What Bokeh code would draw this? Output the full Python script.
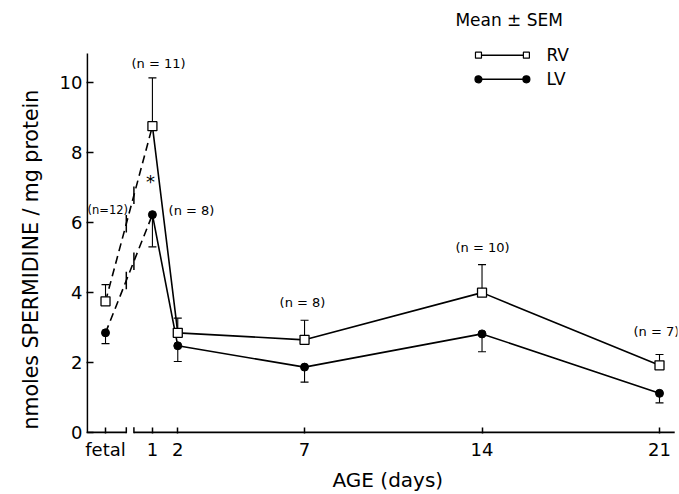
import numpy as np
from bokeh.plotting import figure
from bokeh.models import Range1d, FixedTicker, Whisker, TeeHead, ColumnDataSource, Title
from bokeh.core.properties import value
from bokeh.embed import file_html
from bokeh.resources import INLINE

# ---- data ----
age_labels = ["fetal", "1", "2", "7", "14", "21"]
age_pos = [-0.85, 1, 2, 7, 14, 21]
rv_mean = [3.75, 8.76, 2.85, 2.65, 4.0, 1.92]
rv_upper = [4.23, 10.14, 3.27, 3.21, 4.8, 2.23]
lv_mean = [2.85, 6.23, 2.48, 1.87, 2.82, 1.12]
lv_lower = [2.54, 5.31, 2.03, 1.44, 2.31, 0.85]
n_text = ["(n = 11)", "(n = 8)", "(n = 8)", "(n = 10)", "(n = 7)"]
n_fetal = "(n=12)"
y_ticks = [0, 2, 4, 6, 8, 10]

# annotation placement (layout only)
n_x = [1.24, 2.54, 6.92, 14.02, 20.88]
n_y = [10.56, 6.35, 3.72, 5.29, 2.9]

FONT = "DejaVu Sans"
X0, X1 = -1.60, 21.71
Y0, Y1 = -0.0285, 12.354

p = figure(width=679, height=494, x_range=Range1d(X0, X1), y_range=Range1d(Y0, Y1),
           output_backend="svg", toolbar_location=None,
           min_border_left=86, min_border_right=2, min_border_top=0, min_border_bottom=60)
p.title.visible = False
p.xgrid.visible = False
p.ygrid.visible = False
p.outline_line_color = None
p.background_fill_color = "white"

# axes
p.xaxis.ticker = FixedTicker(ticks=age_pos)
p.xaxis.major_label_overrides = {float(a): l for a, l in zip(age_pos, age_labels)}
p.xaxis.axis_line_color = None
p.xaxis.major_tick_in = 6
p.xaxis.major_tick_out = 0
p.xaxis.major_tick_line_width = 1.5
p.xaxis.major_label_standoff = 5
p.xaxis.major_label_text_font = FONT
p.xaxis.major_label_text_font_size = "18px"
p.xaxis.major_label_text_color = "black"
p.xaxis.minor_tick_line_color = None

p.yaxis.ticker = FixedTicker(ticks=y_ticks)
p.yaxis.axis_line_color = None
p.yaxis.major_tick_in = 7
p.yaxis.major_tick_out = 0
p.yaxis.major_tick_line_width = 1.5
p.yaxis.major_label_standoff = 4
p.yaxis.major_label_text_font = FONT
p.yaxis.major_label_text_font_size = "18px"
p.yaxis.major_label_text_color = "black"
p.yaxis.minor_tick_line_color = None

# hand-drawn axis lines with break
y_axis_x = X0 + 0.03
p.segment(x0=[y_axis_x], y0=[0], x1=[y_axis_x], y1=[10.84], line_color="black", line_width=1.8)
brk = [-0.03, 0.27]
p.segment(x0=[y_axis_x, brk[1]], y0=[0, 0], x1=[brk[0], 21.6], y1=[0, 0],
          line_color="black", line_width=2)
p.segment(x0=brk, y0=[-0.03, -0.03], x1=brk, y1=[0.15, 0.15], line_color="black", line_width=1.5)

# error bars (one-sided)
src = ColumnDataSource(dict(x=age_pos, rv=rv_mean, rvu=rv_upper, lv=lv_mean, lvl=lv_lower))
w1 = Whisker(base="x", lower="rv", upper="rvu", source=src, lower_head=None,
             upper_head=TeeHead(size=8, line_width=1.2), line_width=1.1, level="underlay")
w2 = Whisker(base="x", lower="lvl", upper="lv", source=src, upper_head=None,
             lower_head=TeeHead(size=8, line_width=1.2), line_width=1.1, level="underlay")
p.add_layout(w1)
p.add_layout(w2)

# lines: dashed fetal -> day 1, solid afterwards
for ys in (rv_mean, lv_mean):
    p.line(age_pos[:2], ys[:2], line_color="black", line_width=1.6, line_dash="8 5")
    p.line(age_pos[1:], ys[1:], line_color="black", line_width=1.6)
    # break marks on the dashed segments
    yb = np.interp(brk, age_pos[:2], ys[:2])
    p.segment(x0=brk, y0=yb - 0.25, x1=brk, y1=yb + 0.25, line_color="black", line_width=1.5)

p.scatter(age_pos, rv_mean, marker="square", size=9, fill_color="white",
          line_color="black", line_width=1.3)
p.scatter(age_pos, lv_mean, marker="circle", size=8, fill_color="black", line_color="black")

# n labels and significance star
p.text(n_x, n_y, text=n_text, text_font=value(FONT), text_font_size="13px",
       text_align="center", text_baseline="middle", text_color="black")
p.text([-0.76], [6.35], text=[n_fetal], text_font=value(FONT), text_font_size="11.5px",
       text_align="center", text_baseline="middle", text_color="black")
p.text([0.92], [7.19], text=["*"], text_font=value(FONT), text_font_size="18px",
       text_align="center", text_baseline="middle", text_color="black")

# legend (manual)
p.text([12.95], [11.79], text=["Mean \u00b1 SEM"], text_font=value(FONT), text_font_size="17px",
       text_align="left", text_baseline="middle", text_color="black")
leg_x = [13.86, 15.75]
for yl, lab, mk, fc, sz in ((10.79, "RV", "square", "white", 6), (10.1, "LV", "circle", "black", 7)):
    p.line(leg_x, [yl, yl], line_color="black", line_width=1.5)
    p.scatter(leg_x, [yl, yl], marker=mk, size=sz, fill_color=fc, line_color="black", line_width=1.2)
    p.text([16.54], [yl], text=[lab], text_font=value(FONT), text_font_size="17px",
           text_align="left", text_baseline="middle", text_color="black")

# axis titles
p.add_layout(Title(text="nmoles SPERMIDINE / mg protein", align="left", offset=4, standoff=28,
                   text_font=FONT, text_font_size="20.5px", text_font_style="normal",
                   text_color="black"), "left")
p.add_layout(Title(text="AGE (days)", align="left", offset=246, standoff=6,
                   text_font=FONT, text_font_size="20px", text_font_style="normal",
                   text_color="black"), "below")

open("out.html", "w").write(file_html(p, INLINE))
